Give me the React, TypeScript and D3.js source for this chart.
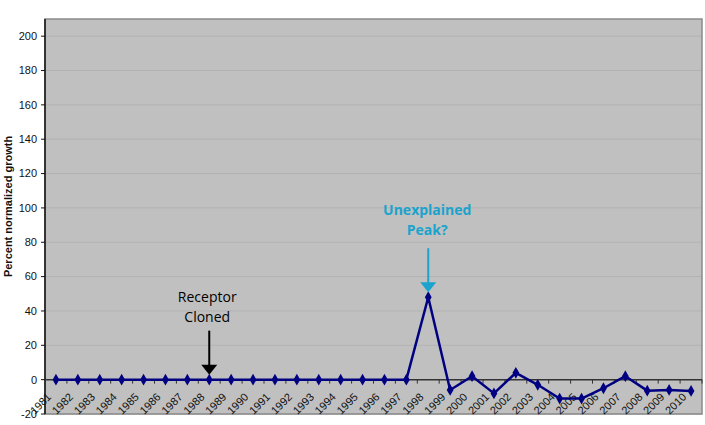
import React from "react";
import * as d3 from "d3";

const years: string[] = d3.range(1981, 2011).map((y) => String(y));
const growth: number[] = [
  0, 0, 0, 0, 0, 0, 0, 0, 0, 0, 0, 0, 0, 0, 0, 0, 0,
  48, -6, 2, -8, 4, -3, -11, -11, -5, 2, -6.4, -6, -6.6,
];
const yTicks: number[] = [-20, 0, 20, 40, 60, 80, 100, 120, 140, 160, 180, 200];
const yLabel = "Percent normalized growth";
const annotations = [
  { year: "1988", lines: ["Receptor", "Cloned"], color: "#000000", bold: false },
  { year: "1998", lines: ["Unexplained", "Peak?"], color: "#1aa3cc", bold: true },
];

const W = 705;
const H = 425;
const left = 45;
const right = 702;
const top = 19;
const bottom = 414;

export default function App() {
  const x = d3.scaleBand<string>().domain(years).range([left, right]).padding(0);
  const y = d3.scaleLinear().domain([-20, 210]).range([bottom, top]);
  const cx = (yr: string) => (x(yr) as number) + x.bandwidth() / 2;
  const line = d3
    .line<number>()
    .x((_, i) => cx(years[i]))
    .y((d) => y(d));
  const diamond = d3.symbol().type(d3.symbolDiamond).size(40)();
  const y0 = y(0);
  const boundaries = d3.range(years.length + 1).map((i) => left + i * x.bandwidth());

  return (
    <svg
      width={W}
      height={H}
      style={{ position: "absolute", left: 0, top: 0, background: "#fff" }}
      fontFamily="'Liberation Sans', Arial, sans-serif"
    >
      <rect x={left} y={top} width={right - left} height={bottom - top} fill="#c0c0c0" />
      {yTicks.map((t) => (
        <line key={"g" + t} x1={left} x2={right} y1={y(t)} y2={y(t)} stroke="#b2b2b2" strokeWidth={1} />
      ))}
      <rect x={left} y={top} width={right - left} height={bottom - top} fill="none" stroke="#8a8a8a" strokeWidth={1.5} />
      {/* y axis */}
      <line x1={left} x2={left} y1={top} y2={bottom} stroke="#111" strokeWidth={1.5} />
      {yTicks.map((t) => (
        <g key={"t" + t}>
          <line x1={left - 4} x2={left} y1={y(t)} y2={y(t)} stroke="#111" strokeWidth={1} />
          <text x={left - 8} y={y(t)} dy="0.35em" textAnchor="end" fontSize={11} fill="#111">
            {t}
          </text>
        </g>
      ))}
      <text
        transform={`translate(12,${(top + bottom) / 2 - 10}) rotate(-90)`}
        textAnchor="middle"
        fontSize={11}
        fontWeight="bold"
        fill="#111"
      >
        {yLabel}
      </text>
      {/* x axis at zero */}
      <line x1={left} x2={right} y1={y0} y2={y0} stroke="#333" strokeWidth={1.5} />
      {boundaries.map((b, i) => (
        <line key={"b" + i} x1={b} x2={b} y1={y0} y2={y0 + 4} stroke="#333" strokeWidth={1} />
      ))}
      {years.map((yr) => (
        <text
          key={"l" + yr}
          transform={`translate(${cx(yr) - 4},${y0 + 18}) rotate(-45)`}
          textAnchor="end"
          fontSize={11}
          fill="#111"
        >
          {yr}
        </text>
      ))}
      {/* series */}
      <path d={line(growth) || ""} fill="none" stroke="#000080" strokeWidth={2.5} strokeLinejoin="round" />
      {growth.map((v, i) => (
        <path key={"m" + i} d={diamond || ""} transform={`translate(${cx(years[i])},${y(v)})`} fill="#000080" />
      ))}
      {/* annotations */}
      {annotations.map((a) => {
        const ax = cx(a.year);
        const idx = years.indexOf(a.year);
        const tipY = y(growth[idx]) - 5;
        const startY = tipY - 44;
        const textTop = a.bold ? startY - 33 : startY - 29;
        return (
          <g key={a.year} fontFamily="'Open Sans', sans-serif">
            {a.lines.map((ln, j) => (
              <text
                key={j}
                x={ax - (a.bold ? 1 : 2)}
                y={textTop + j * 20}
                textAnchor="middle"
                fontSize={14}
                fontWeight={a.bold ? "bold" : "normal"}
                fill={a.color}
              >
                {ln}
              </text>
            ))}
            <line x1={ax} x2={ax} y1={startY} y2={tipY - 8} stroke={a.color} strokeWidth={2} />
            <path
              d={`M${ax - 8},${tipY - 10} L${ax + 8},${tipY - 10} L${ax},${tipY} Z`}
              fill={a.color}
            />
          </g>
        );
      })}
    </svg>
  );
}
